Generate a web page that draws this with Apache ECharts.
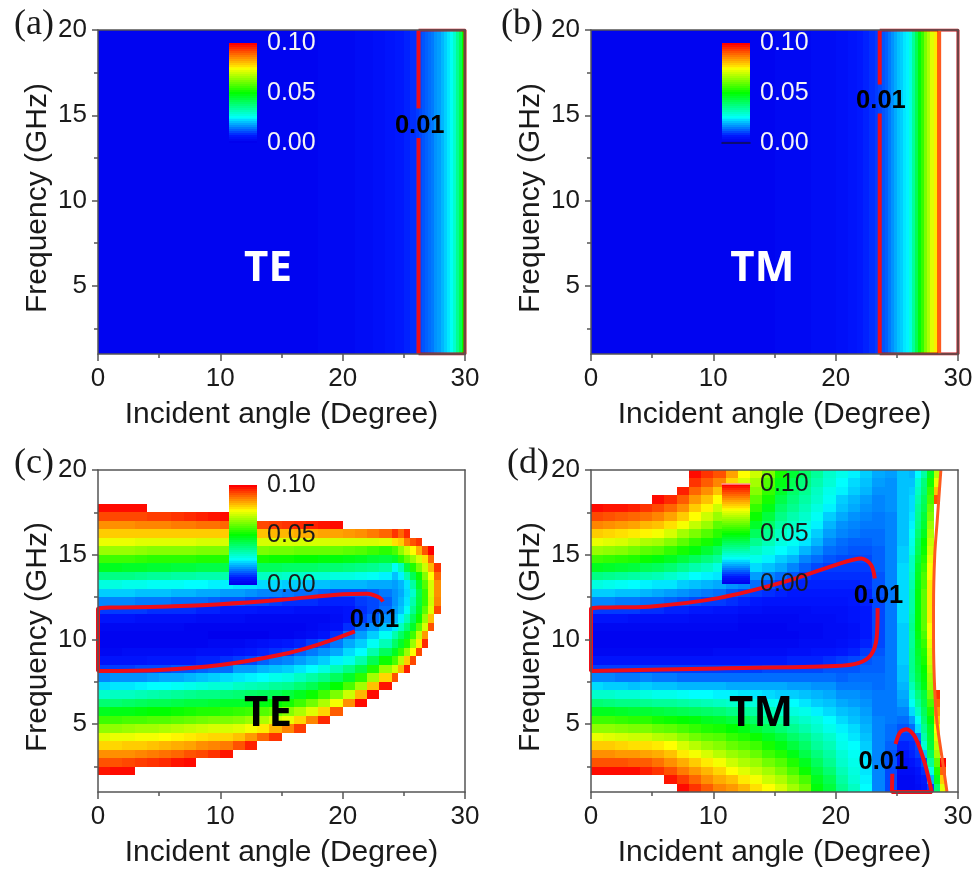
<!DOCTYPE html>
<html><head><meta charset="utf-8">
<style>html,body{margin:0;padding:0;background:#fff}#c{width:978px;height:869px}</style>
<script src="https://cdn.jsdelivr.net/npm/echarts@6/dist/echarts.min.js"></script>
</head><body><div id="c"></div>
<script>
const W = 120;

// (a) TE, frequency independent: one value per 0.25 degree
const panelA = [1,1,1,1,1,1,1,1,1,1,1,1,1,1,1,1,1,1,1,1,1,1,1,1,1,1,1,1,1,1,1,1,1,1,1,1,1,1,1,1,
 1,1,1,1,1,1,1,1,1,1,1,1,1,1,1,1,1,1,1,1,1,1,1,1,1,1,1,1,1,1,1,1,2,2,2,2,2,2,2,2,
 2,2,2,2,3,3,3,3,3,3,4,4,4,4,5,5,5,6,6,6,7,7,8,8,9,10,11,12,13,14,16,17,19,21,23,26,30,36,42,50];
// (b) TM, frequency independent: one value per 0.25 degree
const panelB = [1,1,1,1,1,1,1,1,1,1,1,1,1,1,1,1,1,1,1,1,1,1,1,1,1,1,1,1,1,1,1,1,1,1,1,1,1,1,1,1,
 1,1,1,1,1,1,1,1,1,1,1,1,1,1,1,1,1,1,1,1,2,2,2,2,2,2,2,2,2,2,2,2,3,3,3,3,3,3,3,3,
 4,4,4,4,5,5,5,6,6,7,7,8,8,9,10,11,12,14,16,18,20,21,23,24,28,35,42,49,55,62,67,72,77,90,W,W,W,W,W,W];

// (c) TE: one list per angle column (1 degree wide to 24, then 0.5), from 1.25 GHz upward in 0.5 GHz rows;
// rows past a list's end are white
const panelC = [
[W,W,98,92,86,79,72,64,56,47,39,30,22,15,9,5,2,1,1,2,5,9,15,21,28,37,47,56,65,73,80,86,93,99],
[W,W,99,92,86,79,73,64,56,48,39,31,23,16,9,5,2,1,1,2,5,9,15,21,28,37,47,56,65,73,80,86,93,99],
[W,W,99,93,86,80,73,65,57,48,40,31,23,16,9,5,3,1,1,2,5,9,15,21,27,37,46,56,65,73,80,86,93,99],
[W,W,W,94,87,80,74,66,57,49,41,32,24,16,10,5,3,1,1,2,4,9,14,20,27,36,46,55,64,72,80,87,93,99],
[W,W,W,95,88,81,74,66,58,50,42,33,25,17,10,6,3,1,1,2,4,8,14,20,26,35,45,54,63,72,80,87,94],
[W,W,W,96,89,82,75,67,58,50,42,34,25,18,10,6,3,1,1,2,4,8,14,20,26,35,45,54,63,72,80,87,94],
[W,W,W,98,90,83,76,68,59,51,43,35,26,18,11,6,3,1,1,2,4,8,13,19,26,34,44,54,63,72,80,88,95],
[W,W,W,99,92,84,77,69,60,52,44,36,27,19,11,6,3,1,1,1,4,8,13,19,25,34,44,54,63,72,80,88,96],
[W,W,W,W,93,86,78,70,61,53,44,37,28,20,12,7,4,1,1,1,3,7,13,18,25,33,43,53,62,71,80,89,97],
[W,W,W,W,95,87,79,71,62,53,45,37,29,21,13,7,4,2,0,1,3,7,12,18,24,33,43,53,62,71,80,89,98],
[W,W,W,W,98,88,79,71,62,54,46,38,29,22,13,8,4,2,0,1,3,6,11,17,24,33,43,53,62,71,80,90,99],
[W,W,W,W,W,92,81,72,63,55,46,39,31,23,17,9,5,2,0,1,3,6,11,17,23,32,42,52,62,71,81,91],
[W,W,W,W,W,97,85,74,65,56,47,40,32,24,17,10,6,3,0,1,2,6,10,16,23,32,42,52,62,71,81,92],
[W,W,W,W,W,W,90,77,67,58,48,41,33,25,19,12,7,4,0,1,2,5,10,15,22,31,41,52,62,71,81,93],
[W,W,W,W,W,W,95,82,71,60,50,42,35,27,20,14,8,5,1,1,2,5,9,15,22,31,41,51,61,71,82,94],
[W,W,W,W,W,W,W,87,73,63,52,44,36,28,21,15,9,6,1,1,2,5,8,14,21,30,40,51,61,71,82,95],
[W,W,W,W,W,W,W,94,79,67,56,47,39,31,23,17,12,7,2,1,2,4,8,13,21,30,40,50,60,71,83,96],
[W,W,W,W,W,W,W,W,87,72,61,51,42,34,25,19,14,9,3,2,2,4,8,13,20,29,40,50,60,71,83,97],
[W,W,W,W,W,W,W,W,96,79,67,56,46,37,28,21,16,11,5,3,2,4,7,12,20,29,39,49,60,71,84,98],
[W,W,W,W,W,W,W,W,W,91,74,62,50,41,32,24,18,14,8,4,3,4,7,11,19,28,39,49,60,71,84,99],
[W,W,W,W,W,W,W,W,W,W,86,70,57,46,37,27,22,18,13,8,5,5,7,11,19,28,38,48,59,71,85],
[W,W,W,W,W,W,W,W,W,W,99,82,66,54,43,33,25,21,17,13,9,8,9,11,19,27,37,47,58,71,86],
[W,W,W,W,W,W,W,W,W,W,W,99,81,66,53,42,33,26,21,16,12,10,10,12,18,26,36,45,56,71,88],
[W,W,W,W,W,W,W,W,W,W,W,W,98,79,65,51,41,32,26,20,16,13,12,14,18,24,34,44,54,72,90],
[W,W,W,W,W,W,W,W,W,W,W,W,W,92,71,57,47,40,33,23,19,17,16,16,17,20,26,46,57,78,95],
[W,W,W,W,W,W,W,W,W,W,W,W,W,W,82,68,55,46,40,31,24,20,19,18,19,24,32,54,64,80,90],
[W,W,W,W,W,W,W,W,W,W,W,W,W,W,97,80,65,53,46,39,32,26,23,22,23,33,44,60,70,88,96],
[W,W,W,W,W,W,W,W,W,W,W,W,W,W,W,93,75,65,56,46,41,36,33,30,34,42,53,65,75,92],
[W,W,W,W,W,W,W,W,W,W,W,W,W,W,W,W,93,77,69,59,51,46,44,43,46,51,62,71,83,95],
[W,W,W,W,W,W,W,W,W,W,W,W,W,W,W,W,W,96,85,71,65,59,55,55,58,63,70,78,92],
[W,W,W,W,W,W,W,W,W,W,W,W,W,W,W,W,W,W,W,92,81,72,70,71,71,75,82,90,100],
[W,W,W,W,W,W,W,W,W,W,W,W,W,W,W,W,W,W,W,W,W,93,87,86,86,90,95]
];

// (d) TM: one list per angle column (1 degree wide to 26, then 0.5), same rows as (c)
const panelD = [
[W,W,99,92,86,80,73,64,56,47,39,30,22,15,9,5,2,1,1,2,5,9,15,21,28,37,47,56,65,73,80,87,93,99],
[W,W,99,92,86,80,72,64,56,47,38,30,21,15,9,5,2,1,1,2,5,9,15,21,27,36,46,55,64,72,79,86,92,98],
[W,W,99,92,85,79,71,63,55,46,37,29,21,14,9,5,2,1,1,2,5,9,14,20,26,35,45,54,63,71,78,85,91,98],
[W,W,99,91,85,78,70,62,54,45,37,29,20,14,9,5,2,1,1,2,4,9,14,20,25,34,44,53,61,69,77,84,90,97],
[W,W,97,91,84,78,70,62,54,45,36,28,21,15,9,5,2,1,1,2,4,8,13,19,24,33,42,51,59,67,76,82,89,95],
[W,W,95,89,83,77,68,60,52,44,35,27,20,14,9,5,2,1,1,2,4,8,13,18,23,32,41,49,58,66,74,81,87,93,99],
[W,98,92,86,81,75,67,59,51,43,35,27,20,14,9,5,2,1,1,2,4,7,12,17,23,30,39,47,55,63,71,78,84,90,96],
[99,94,88,83,77,71,64,57,50,42,34,26,19,13,9,5,2,1,1,2,4,7,11,16,21,28,36,44,52,59,66,74,80,86,91,97],
[95,90,85,80,74,68,61,55,49,41,33,25,19,13,9,5,2,1,1,2,3,6,10,15,20,25,33,41,49,55,62,69,75,80,85,90,95,99],
[91,86,82,77,71,65,59,53,47,40,32,25,19,13,9,5,2,1,1,2,3,6,9,14,19,24,31,38,45,52,58,65,70,76,81,86,91,95],
[87,83,79,74,68,63,58,52,46,39,31,24,19,13,9,5,3,1,1,2,3,5,9,13,18,23,28,35,41,48,54,59,65,70,75,81,87,92],
[85,81,75,70,65,60,55,50,44,37,30,24,18,13,9,5,3,1,1,2,3,5,8,11,16,21,26,32,38,44,50,55,59,64,69,74,79,84],
[82,77,72,67,63,58,53,48,42,35,29,23,18,13,9,5,3,1,1,1,2,4,7,10,15,19,24,29,35,40,45,51,55,59,63,67,71,75],
[78,74,69,65,60,56,51,45,40,34,28,23,18,13,9,6,3,2,1,1,2,4,6,9,13,17,22,27,31,36,41,46,51,55,59,63,66,70],
[75,70,66,61,56,52,47,42,37,32,27,22,18,13,10,6,3,2,1,1,2,3,5,8,11,15,20,24,28,32,36,40,44,48,52,55,58,62],
[71,67,62,58,53,48,44,39,35,30,26,21,18,13,10,6,3,2,1,1,2,3,5,7,9,13,18,21,25,28,31,34,37,40,43,46,48,52],
[66,62,57,53,48,44,40,36,32,28,25,21,17,13,10,7,4,2,1,2,2,3,5,6,8,11,15,19,23,26,28,31,33,36,38,40,42,45],
[61,57,51,47,43,40,37,33,30,27,23,20,17,13,10,7,4,3,2,2,3,3,5,6,7,9,12,15,19,23,26,28,30,32,34,36,38,40],
[49,47,44,41,38,35,33,30,28,24,21,19,16,13,10,7,5,3,2,2,3,4,5,6,7,8,10,13,16,19,21,24,26,28,30,31,33,35],
[44,42,39,36,34,32,30,27,25,22,20,18,16,13,11,8,5,3,3,3,3,4,5,6,7,8,9,11,13,15,17,19,21,24,26,27,29,30],
[36,34,32,30,29,27,26,24,22,20,18,16,14,12,11,9,6,4,3,3,4,4,5,6,7,8,9,10,12,13,15,16,18,20,21,24,25,27],
[31,29,28,27,26,25,23,22,20,19,17,16,14,13,11,10,7,5,4,4,5,5,6,6,7,8,9,10,11,12,14,15,16,18,19,21,22,24],
[25,24,23,23,22,21,20,19,18,17,16,15,14,13,12,11,9,7,6,6,6,6,7,7,8,8,9,10,11,12,13,14,15,16,17,19,20,21],
[15,15,15,15,15,15,15,15,15,14,14,14,13,13,12,12,11,10,10,10,10,10,10,11,11,11,12,12,12,13,13,14,14,15,15,16,17,18],
[10,10,10,11,11,12,13,13,14,14,14,14,14,14,14,14,14,14,14,14,14,14,14,14,15,15,15,15,15,15,15,15,15,16,16,16,16,17],
[2,2,3,4,5,7,9,11,13,15,17,18,19,20,20,21,21,21,21,21,22,22,22,22,22,22,22,21,21,20,20,20,20,20,20,20,20,20],
[2,2,3,5,7,8,9,13,17,22,26,29,32,35,36,36,36,35,35,36,35,34,34,34,33,32,31,31,28,27,26,24,23,22,22,21,20,19],
[3,4,5,7,9,10,14,22,26,31,35,38,41,43,44,45,46,47,48,49,49,49,49,49,48,47,46,44,42,41,39,37,36,35,33,31,29,25],
[5,6,8,10,20,29,33,36,39,41,43,44,48,49,50,52,53,55,57,59,59,59,59,59,57,57,55,53,51,50,47,45,44,42,41,39,38,34],
[9,19,27,35,41,44,45,46,49,53,57,61,65,66,68,70,71,73,75,75,77,77,77,77,77,75,75,73,71,69,67,65,62,60,57,55,52,47],
[39,47,53,59,66,69,72,75,80,85,90,95,W,W,W,W,W,W,W,W,W,W,W,W,W,W,W,W,W,W,W,W,W,W,92,81,73,68],
[72,80,90,100]
];

// Colour-bar levels (0.001 units) and its tick labels
const barLevels = [0,2,4,6,8,10,12,14,16,18,20,22,24,26,28,30,32,34,36,38,40,42,44,46,48,50,52,54,56,58,60,62,64,66,68,70,72,74,76,78,80,82,84,86,88,90,92,94,96,98,100];
const barTicks = [0, 0.05, 0.1];
const xTicksMinor = 2;
const yMajor = [5,10,15,20];
const yMinor = [2.5,7.5,12.5,17.5];
const rampColors = ['#0000ee','#0018ff','#0067ff','#00b3ff','#00ffff','#00ffbf','#00ff80','#00ff40','#00ff00','#40ff00','#80ff00','#bfff00','#ffff00','#ffbf00','#ff8000','#ff4000','#ff0000'];

// Contours [angle, GHz], one list per unbroken stretch
const contourA1 = [[26.2,1],[26.2,13.67]];
const contourA2 = [[26.2,15.4],[26.2,20]];
const boxA = [[26.2,20],[30,20],[30,1],[26.2,1]];
const contourB1 = [[23.6,1],[23.6,15.1]];
const contourB2 = [[23.6,16.8],[23.6,20]];
const boxB = [[23.6,20],[30,20],[30,1],[23.6,1]];
const edgeB = [[28.5,1],[28.5,20]];
const contourC = [[21,10.48],[18,9.7],[15,9.11],[10,8.49],[5,8.2],[0,8.14],[0,11.8],[5,11.93],[10,12.08],[15,12.34],[20,12.67],[22,12.7],[23,12.48],[23.3,12.24]];
const contourD1 = [[23.2,13.6],[22.9,14.39],[22.1,14.78],[19.95,14.39],[15.86,13.41],[10.4,12.44],[4.96,11.95],[0,11.81],[0,8.14],[10.4,8.29],[19.95,8.43],[21.9,8.62],[22.9,9.11],[23.35,10.09],[23.43,11.85]];
const contourD2 = [[24.63,2.08],[24.6,1],[27.85,1],[27.3,2.66],[26.5,4.23],[25.8,4.71],[25.26,4.52],[24.9,3.83]];
const edgeD = [[29.1,1],[28.7,3],[28.3,5],[28.1,7],[28,10],[28,12],[28.1,15],[28.3,17],[28.6,20]];

// Annotations [angle, GHz, text]
const notesA = [[26.3,14.37,'0.01']];
const notesB = [[23.7,15.85,'0.01']];
const notesC = [[22.6,11.15,'0.01']];
const notesD = [[23.5,12.55,'0.01'],[23.9,2.76,'0.01']];
const polA = [[13.9,5.98,'TE']];
const polB = [[14,5.98,'TM']];
const polC = [[13.9,5.63,'TE']];
const polD = [[13.9,5.63,'TM']];

// Cell edges of the colour grids
function range(a,b,s){const o=[];for(let v=a;v<=b+1e-9;v+=s)o.push(v);return o;}
const stripEdges = range(0,30,0.25);
const stripRow = [1,20];
const freqEdges = range(1,20,0.5);
const edgesC = range(0,24,1).concat(range(24.5,28,0.5));
const edgesD = range(0,26,1).concat(range(26.5,29,0.5));

const AX = '#555';
const TXT = '#1a1a1a';
const RED = '#f00d18';
const option = {animation:false,backgroundColor:'#fff',grid:[],xAxis:[],yAxis:[],series:[],title:[],
 visualMap:{type:'continuous',show:false,min:0,max:100,dimension:4,seriesIndex:[],inRange:{color:rampColors}}};

function renderCell(params,api){
  const a = api.coord([api.value(0),api.value(2)]), b = api.coord([api.value(1),api.value(3)]);
  const l=Math.round(a[0]), r=Math.round(b[0]), t=Math.round(b[1]), u=Math.round(a[1]);
  return {type:'rect',shape:{x:l,y:t,width:r-l,height:u-t},style:{fill:api.visual('color')}};
}
function heat(xi,yi,data,z){
  option.visualMap.seriesIndex.push(option.series.length);
  option.series.push({type:'custom',xAxisIndex:xi,yAxisIndex:yi,data,z,silent:true,clip:true,renderItem:renderCell,progressive:0,
    encode:{x:[0,1],y:[2,3]},emphasis:{disabled:true}});
}
const borderAxis = {z:10,axisLine:{onZero:false,lineStyle:{color:AX,width:1.5}},axisTick:{show:false},axisLabel:{show:false},splitLine:{show:false}};
function panel(p){
  const g = option.grid.length;
  option.grid.push({left:p.left,top:p.top,width:367,height:324});
  const x0 = option.xAxis.length, y0 = option.yAxis.length;
  option.xAxis.push({gridIndex:g,type:'value',min:0,max:30,interval:10,position:'bottom',z:10,
    axisLine:{onZero:false,lineStyle:{color:AX,width:1.5}},axisTick:{length:7,lineStyle:{color:AX,width:1.5}},
    minorTick:{show:true,splitNumber:xTicksMinor,length:4,lineStyle:{color:AX,width:1.5}},splitLine:{show:false},minorSplitLine:{show:false},
    axisLabel:{fontFamily:'Liberation Sans',fontSize:26,color:TXT,margin:12},
    name:'Incident angle (Degree)',nameLocation:'middle',nameGap:46,nameTextStyle:{fontFamily:'Liberation Sans',fontSize:30,color:TXT}});
  option.xAxis.push(Object.assign({gridIndex:g,type:'value',min:0,max:30,position:'top'},borderAxis));
  option.yAxis.push({gridIndex:g,type:'value',min:1,max:20,position:'left',z:10,
    axisLine:{onZero:false,lineStyle:{color:AX,width:1.5}},axisTick:{length:6,customValues:yMajor,lineStyle:{color:AX,width:1.5}},splitLine:{show:false},
    axisLabel:{customValues:yMajor,fontFamily:'Liberation Sans',fontSize:26,color:TXT,margin:11,padding:[4,0,0,0]},
    name:'Frequency (GHz)',nameLocation:'middle',nameGap:45,nameTextStyle:{fontFamily:'Liberation Sans',fontSize:30,color:TXT,padding:[0,12,0,0]}});
  option.yAxis.push(Object.assign({gridIndex:g,type:'value',min:1,max:20,position:'right'},borderAxis));
  option.yAxis.push({gridIndex:g,type:'value',min:1,max:20,position:'left',z:10,
    axisLine:{show:false,onZero:false},axisTick:{length:4,customValues:yMinor,lineStyle:{color:AX,width:1.5}},axisLabel:{show:false},splitLine:{show:false}});
  heat(x0+1,y0+1,p.data,1);
  (p.contours||[]).forEach(c=>{
    option.series.push({type:'line',xAxisIndex:x0,yAxisIndex:y0,data:c.pts,smooth:c.smooth||false,showSymbol:false,symbol:'none',z:4,silent:true,
      lineStyle:{color:c.color||RED,width:c.width||4,opacity:1}});
  });
  const noteLabel = (size,fam,color)=>({show:true,position:'inside',opacity:1,formatter:o=>o.data.t,fontFamily:fam,fontWeight:'bold',fontSize:size,color});
  option.series.push({type:'scatter',xAxisIndex:x0,yAxisIndex:y0,symbolSize:1,z:6,silent:true,itemStyle:{color:'rgba(0,0,0,0)',opacity:1},data:p.notes.map(n=>({value:[n[0],n[1]],t:n[2]})),
    label:noteLabel(25.5,'Liberation Sans','#000')});
  option.series.push({type:'scatter',xAxisIndex:x0,yAxisIndex:y0,symbolSize:1,z:6,silent:true,itemStyle:{color:'rgba(0,0,0,0)',opacity:1},data:p.pol.map(n=>({value:[n[0],n[1]],t:n[2]})),
    label:noteLabel(42,'Open Sans',p.polColor)});
  // inset colour bar
  const gb = option.grid.length;
  option.grid.push({left:p.barLeft,top:p.barTop,width:28,height:100});
  const bx = option.xAxis.length, by = option.yAxis.length;
  option.xAxis.push({gridIndex:gb,type:'value',min:0,max:1,position:p.barEdge||'bottom',z:12,axisLine:{show:!!p.barEdge,onZero:false,lineStyle:{color:p.barEdgeColor,width:1.5}},axisTick:{show:false},axisLabel:{show:false},splitLine:{show:false}});
  option.yAxis.push({gridIndex:gb,type:'value',min:-1,max:101,axisLine:{show:false,onZero:false},axisTick:{show:false},axisLabel:{show:false},splitLine:{show:false}});
  option.yAxis.push({gridIndex:gb,type:'value',min:0,max:0.1,position:'right',z:12,axisLine:{show:false,onZero:false},axisTick:{show:false},splitLine:{show:false},
    axisLabel:{customValues:barTicks,formatter:v=>v.toFixed(2),fontFamily:'Liberation Sans',fontSize:25,color:p.barText,margin:10,padding:[4,0,0,0]}});
  heat(bx,by,barLevels.map(v=>[0,1,v-1,v+1,v]),8);
  option.title.push({text:p.tag,left:p.tagLeft,top:p.tagTop,padding:0,textStyle:{fontFamily:'Liberation Serif',fontWeight:'normal',fontSize:36,color:TXT}});
}
// cells above 0.10 are left empty so the white page shows through
function strip(vals,xs,ys){return vals.map((v,i)=>[xs[i],xs[i+1],ys[0],ys[1],v]).filter(c=>c[4]<=100);}
function cells(cols,xs,ys){const out=[];cols.forEach((col,i)=>col.forEach((v,j)=>{if(v<=100)out.push([xs[i],xs[i+1],ys[j],ys[j+1],v]);}));return out;}

const thin = {color:'#c01018',width:3};
panel({left:98,top:30,data:strip(panelA,stripEdges,stripRow),contours:[{pts:boxA,color:thin.color,width:thin.width},{pts:contourA1,smooth:0.2},{pts:contourA2,smooth:0.2}],notes:notesA,pol:polA,polColor:'#fff',barLeft:229,barTop:43,barText:'#f4f4f4',tag:'(a)',tagLeft:14,tagTop:7});
panel({left:591,top:30,data:strip(panelB,stripEdges,stripRow),contours:[{pts:boxB,color:thin.color,width:thin.width},{pts:contourB1,smooth:0.2},{pts:contourB2,smooth:0.2},{pts:edgeB,color:'#ff5a1e',width:3}],notes:notesB,pol:polB,polColor:'#fff',barLeft:722,barTop:43,barText:'#f4f4f4',barEdge:'bottom',barEdgeColor:'#10104a',tag:'(b)',tagLeft:501,tagTop:7});
panel({left:98,top:470,data:cells(panelC,edgesC,freqEdges),contours:[{pts:contourC,smooth:0.3}],notes:notesC,pol:polC,polColor:'#000',barLeft:229,barTop:485,barText:TXT,tag:'(c)',tagLeft:14,tagTop:446});
panel({left:591,top:470,data:cells(panelD,edgesD,freqEdges),contours:[{pts:contourD1,smooth:0.3},{pts:contourD2,smooth:0.3},{pts:edgeD,smooth:0.3,color:'#ff5a1e',width:3}],notes:notesD,pol:polD,polColor:'#000',barLeft:722,barTop:484,barText:TXT,barEdge:'top',barEdgeColor:'#ff9a9a',tag:'(d)',tagLeft:507,tagTop:446});

const chart = echarts.init(document.getElementById('c'),null,{renderer:'canvas'});
chart.setOption(option);
</script></body></html>
